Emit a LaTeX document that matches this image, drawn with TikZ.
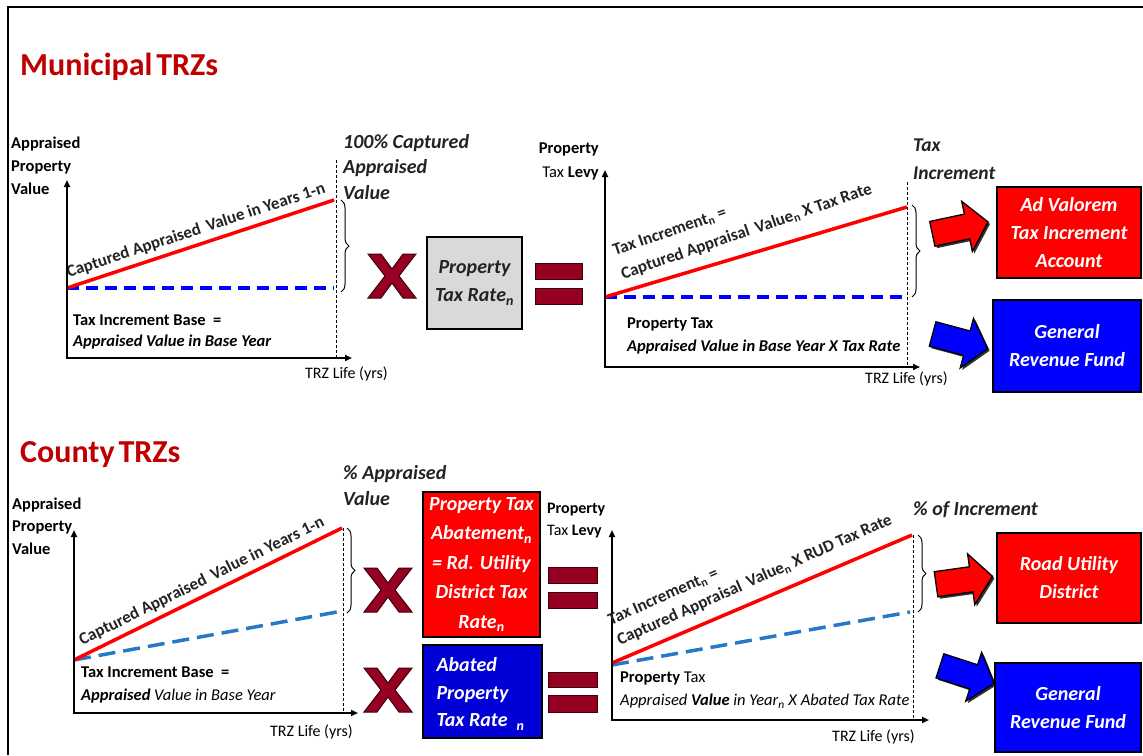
\documentclass[tikz,border=0pt]{standalone}
\usepackage{fontspec}
\setmainfont{Carlito}
\usetikzlibrary{shapes.arrows,decorations.pathreplacing,arrows.meta,shadows}
\definecolor{ttl}{RGB}{192,0,0}
\definecolor{mrn}{RGB}{150,0,35}
\definecolor{mrnline}{RGB}{60,0,10}
\definecolor{bred}{RGB}{255,0,0}
\definecolor{bblue}{RGB}{0,0,255}
\definecolor{dblue}{RGB}{0,0,215}
\definecolor{sblue}{RGB}{40,120,200}
\definecolor{txtgray}{RGB}{35,35,35}
\definecolor{gbox}{RGB}{217,217,217}
\begin{document}
\begin{tikzpicture}[x=1pt,y=-1pt,
  title/.style={font=\fontsize{32}{32}\selectfont\bfseries, text=ttl, inner sep=0pt},
  axisline/.style={line width=2.6pt, {Triangle[length=7pt,width=6pt]}-{Triangle[length=7pt,width=6pt]}},
  redln/.style={line width=3.5pt, color=bred},
  blueln/.style={line width=3.5pt, color=bblue, dash pattern=on 12pt off 7pt},
  sblueln/.style={line width=3.5pt, color=sblue, dash pattern=on 17pt off 8pt},
  vdot/.style={line width=1pt, dash pattern=on 3pt off 2pt},
  brc/.style={decorate, decoration={brace, amplitude=8pt}, line width=1pt},
  lbl/.style={font=\fontsize{16.5}{23}\selectfont\bfseries, inner sep=0pt, align=left, anchor=west},
  small/.style={font=\fontsize{16}{18}\selectfont, inner sep=0pt, anchor=west},
  rot/.style={font=\fontsize{17}{24}\selectfont\bfseries, text=txtgray, inner sep=0pt, align=left},
  ital/.style={font=\fontsize{20}{25.5}\selectfont\bfseries\itshape, text=txtgray, inner sep=0pt, align=left, anchor=west},
  boxtxt/.style={font=\fontsize{20}{28}\selectfont\bfseries\itshape, text=white, align=center},
  colbox/.style={draw=black, line width=2pt, inner sep=0pt},
  eqbar/.style={fill=mrn, draw=mrnline, line width=1pt},
  blockarrow/.style={single arrow, draw=black, line width=1.3pt, minimum height=57pt, inner sep=12pt, single arrow head extend=13pt, single arrow tip angle=100, drop shadow={shadow xshift=2pt, shadow yshift=-2pt, fill=black, opacity=0.8}},
  xmark/.pic={\filldraw[fill=mrn, draw=mrnline, line width=1pt] (-24,-22) -- (-11,-22) -- (0,-7) -- (11,-22) -- (24,-22) -- (7,0) -- (24,22) -- (11,22) -- (0,7) -- (-11,22) -- (-24,22) -- (-7,0) -- cycle;}
]
\useasboundingbox (0,0) rectangle (1143,755);
% frame
\draw[line width=2pt] (8,755) -- (8,7) -- (1143,7);
% titles
\node[title, anchor=base west] (t1) at (20,75) {Municipal\hspace{0.12em}TRZs};
\node[title, anchor=base west] (t2) at (20,462) {County\hspace{0.12em}TRZs};

% ===== Top left chart =====
\coordinate (A1o) at (67,358);
\coordinate (A1y) at (67,180);
\coordinate (A1x) at (352,358);
\coordinate (R1s) at (67,288);
\coordinate (R1e) at (334,200);
\coordinate (B1e) at (334,288);
\coordinate (V1t) at (336,160);
\coordinate (V1b) at (336,358);
\coordinate (Br1a) at (341,200);
\coordinate (Br1b) at (341,292);
\draw[vdot] (V1t) -- (V1b);
\draw[blueln] (R1s) -- (B1e);
\draw[redln] (R1s) -- (R1e) node[rot, midway, sloped, above=5pt] (c1) {Captured Appraised\, Value in Years 1-n};
\draw[axisline] (A1y) -- (A1o) -- (A1x);
\draw[brc] (Br1a) -- (Br1b);
\node[lbl] (yl1) at (11,166) {Appraised\\Property\\Value};
\node[lbl, font=\fontsize{16.5}{21}\selectfont\bfseries] (base1) at (73,332) {Tax Increment Base\ \ =\\\itshape Appraised Value in Base Year};
\node[small] (trz1) at (305,374) {TRZ Life (yrs)};

% ===== Top middle =====
\node[ital] (pc1) at (343,167) {100\% Captured\\Appraised\\Value};
\pic at (392,276) {xmark};
\node[colbox, fill=gbox, minimum width=95pt, minimum height=92pt, font=\fontsize{20}{28}\selectfont\bfseries\itshape, text=txtgray, align=center] (ptr) at (474.5,283) {Property\\Tax Rate\textsubscript{n}};
\filldraw[eqbar] (535,263) rectangle (582,279);
\filldraw[eqbar] (535,288) rectangle (582,304);

% ===== Top right chart =====
\coordinate (A2o) at (605,367);
\coordinate (A2y) at (605,170);
\coordinate (A2x) at (920,367);
\coordinate (R2s) at (605,297);
\coordinate (R2e) at (907,207);
\coordinate (B2e) at (907,297);
\coordinate (V2t) at (907,182);
\coordinate (V2b) at (907,367);
\coordinate (Br2a) at (912,205);
\coordinate (Br2b) at (912,297);
\draw[vdot] (V2t) -- (V2b);
\draw[blueln] (R2s) -- (B2e);
\draw[redln] (R2s) -- (R2e);
\draw[axisline] (A2y) -- (A2o) -- (A2x);
\draw[brc] (Br2a) -- (Br2b);
\node[rot, anchor=south west, rotate=19, font=\fontsize{17}{25}\selectfont\bfseries] (ti2) at (624,282) {Tax Increment\textsubscript{n} =\\Captured Appraisal\, Value\textsubscript{n} X Tax Rate};
\node[lbl, align=right, anchor=east, font=\fontsize{16.5}{24}\selectfont\bfseries] (yl2) at (599,161) {Property\\{\mdseries Tax} Levy};
\node[lbl] (pt2) at (627,336) {Property Tax\\\itshape Appraised Value in Base Year X Tax Rate};
\node[small] (trz2) at (865,379) {TRZ Life (yrs)};
\node[ital, font=\fontsize{19.5}{28}\selectfont\bfseries\itshape] (ti3) at (913,159) {Tax\\Increment};

% arrows and boxes top
\node[blockarrow, fill=bred, rotate=12] (ar1) at (955,229) {};
\node[blockarrow, fill=bblue, rotate=-15] (ar2) at (955,340) {};
\node[colbox, fill=bred, minimum width=144pt, minimum height=91pt] (avb) at (1069,232.5) {};
\node[boxtxt] (avt) at (avb.center) {Ad Valorem\\Tax Increment\\Account};
\node[colbox, fill=bblue, minimum width=148pt, minimum height=92pt] (grb1) at (1067,346) {};
\node[boxtxt] (grt1) at (grb1.center) {General\\Revenue Fund};

% ===== Bottom left chart =====
\coordinate (A3o) at (74,713);
\coordinate (A3y) at (74,530);
\coordinate (A3x) at (358,713);
\coordinate (R3s) at (74,660);
\coordinate (R3e) at (342,528);
\coordinate (B3e) at (337,612);
\coordinate (V3t) at (343,528);
\coordinate (V3b) at (343,713);
\coordinate (Br3a) at (347,528);
\coordinate (Br3b) at (347,613);
\draw[vdot] (V3t) -- (V3b);
\draw[sblueln] (R3s) -- (B3e);
\draw[redln] (R3s) -- (R3e) node[rot, midway, sloped, above=5pt] (c3) {Captured Appraised\, Value in Years 1-n};
\draw[axisline] (A3y) -- (A3o) -- (A3x);
\draw[brc] (Br3a) -- (Br3b);
\node[lbl, font=\fontsize{16.5}{22.5}\selectfont\bfseries] (yl3) at (12,526) {Appraised\\Property\\Value};
\node[lbl] (base3) at (81,684.5) {Tax Increment Base\ \ =\\\itshape Appraised {\mdseries Value in Base Year}};
\node[small] (trz3) at (270,732) {TRZ Life (yrs)};

% ===== Bottom middle =====
\node[ital] (pa3) at (343,485.5) {\% Appraised\\Value};
\pic at (388,590) {xmark};
\pic at (388,690) {xmark};
\node[colbox, fill=bred, minimum width=117pt, minimum height=145pt] (abb) at (481.5,564.5) {};
\node[boxtxt, font=\fontsize{20}{29.5}\selectfont\bfseries\itshape] (abt) at (abb.center) {Property Tax\\Abatement\textsubscript{n}\\= Rd. Utility\\District Tax\\Rate\textsubscript{n}};
\node[colbox, fill=dblue, minimum width=119pt, minimum height=93pt] (apb) at (482.5,691.5) {};
\node[boxtxt, font=\fontsize{20}{27.5}\selectfont\bfseries\itshape, align=left, anchor=west] (apt) at (433,694) {Abated\\Property\\Tax Rate\hspace{9pt}\textsubscript{n}};
\filldraw[eqbar] (548,567) rectangle (597,583);
\filldraw[eqbar] (548,592) rectangle (597,608);
\filldraw[eqbar] (548,672) rectangle (597,687);
\filldraw[eqbar] (548,695) rectangle (597,712);

% ===== Bottom right chart =====
\coordinate (A4o) at (612,720);
\coordinate (A4y) at (612,530);
\coordinate (A4x) at (929,720);
\coordinate (R4s) at (612,663);
\coordinate (R4e) at (912,535);
\coordinate (B4s) at (612,665);
\coordinate (B4e) at (910,612);
\coordinate (V4t) at (913,535);
\coordinate (V4b) at (913,720);
\coordinate (Br4a) at (918,535);
\coordinate (Br4b) at (918,612);
\draw[vdot] (V4t) -- (V4b);
\draw[sblueln] (B4s) -- (B4e);
\draw[redln] (R4s) -- (R4e);
\draw[axisline] (A4y) -- (A4o) -- (A4x);
\draw[brc] (Br4a) -- (Br4b);
\node[rot, anchor=south west, rotate=24, font=\fontsize{17}{22}\selectfont\bfseries] (ti5) at (621,648) {Tax Increment\textsubscript{n} =\\Captured Appraisal\, Value\textsubscript{n} X RUD Tax Rate};
\node[lbl, font=\fontsize{16}{22}\selectfont\bfseries] (yl4) at (547,521) {Property\\{\mdseries Tax} Levy};
\node[lbl] (pt4) at (620,690) {Property {\mdseries Tax}\\\itshape\mdseries Appraised \textbf{Value} in Year\textsubscript{n} X Abated Tax Rate};
\node[small] (trz4) at (832,737) {TRZ Life (yrs)};
\node[ital] (pi4) at (913,510) {\% of Increment};

% arrows and boxes bottom
\node[blockarrow, fill=bred, rotate=8] (ar3) at (959,581) {};
\node[blockarrow, fill=bblue, rotate=-18] (ar4) at (962,673) {};
\node[colbox, fill=bred, minimum width=144pt, minimum height=90pt] (rub) at (1069,578) {};
\node[boxtxt] (rut) at (rub.center) {Road Utility\\District};
\node[colbox, fill=bblue, minimum width=146pt, minimum height=89pt] (grb2) at (1068,707.5) {};
\node[boxtxt] (grt2) at (grb2.center) {General\\Revenue Fund};
\end{tikzpicture}
\end{document}
